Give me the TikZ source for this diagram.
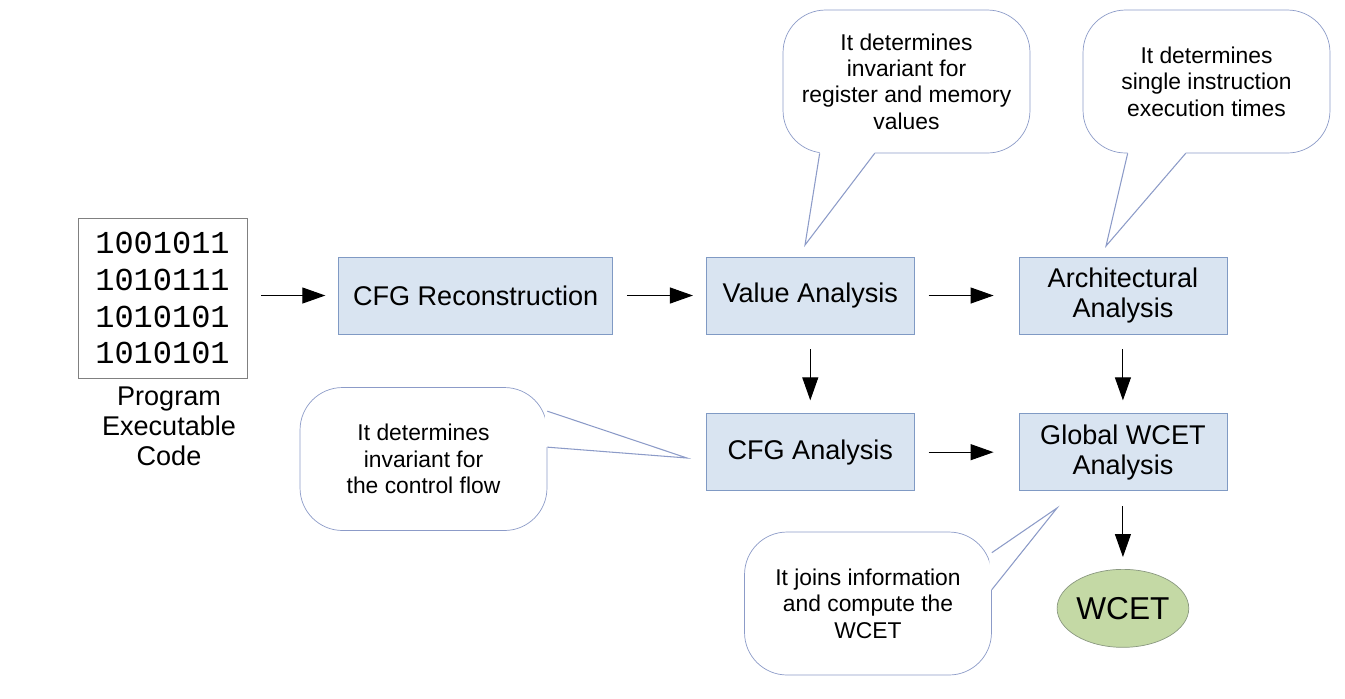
\documentclass[tikz,border=0pt]{standalone}
\usepackage{fontspec}
\setmainfont{Liberation Sans}
\newfontfamily\codefont{Liberation Mono}
\usetikzlibrary{arrows.meta, shapes.geometric, positioning, calc}

\definecolor{boxfill}{RGB}{217,228,241}
\definecolor{boxline}{RGB}{128,154,196}
\definecolor{noteline}{RGB}{140,155,200}
\definecolor{wcetfill}{RGB}{196,217,165}
\definecolor{wcetline}{RGB}{138,152,128}

\begin{document}
\begin{tikzpicture}[
    % one unit = one pixel of the slide, y going down
    x=0.02cm, y=-0.02cm,
    % Styles
    box/.style={rectangle, draw=boxline, fill=boxfill, minimum width=4.16cm, minimum height=1.54cm, inner sep=0pt, text centered, align=center, font=\fontsize{15.4}{17.1}\selectfont},
    note/.style={rectangle, draw=noteline, fill=white, rounded corners=0.85cm, minimum width=4.94cm, minimum height=2.86cm, inner sep=0pt, align=center, font=\fontsize{13}{15}\selectfont},
    arrow/.style={-{Triangle[length=0.46cm, width=0.32cm]}, line width=0.6pt, shorten <=0.28cm, shorten >=0.26cm},
    pointer/.style={draw=noteline, line width=0.6pt}
]
\useasboundingbox (0,0) rectangle (1345,698);

% --- Program code ---
\node[draw=gray, fill=white, minimum width=3.38cm, minimum height=3.2cm, inner sep=0pt, align=center, font=\codefont\fontsize{18.2}{21}\selectfont] (code) at (162.5,298) {1001011\\1010111\\1010101\\1010101};
\node[below=0.16cm of code, xshift=0.13cm, inner sep=0pt, align=center, font=\fontsize{15.4}{17.1}\selectfont] (code_label) {Program\\Executable\\Code};

% --- Analysis chain ---
\node[box, right=1.82cm of code, yshift=0.05cm, minimum width=5.48cm] (cfg_rec) {CFG Reconstruction};
\node[box, right=1.86cm of cfg_rec] (value) {Value Analysis};
\node[box, right=2.08cm of value] (arch) {Architectural\\Analysis};
\node[box, below=1.58cm of value] (cfg_ana) {CFG Analysis};
\node[box, below=1.58cm of arch] (global) {Global WCET\\Analysis};
\node[ellipse, draw=wcetline, fill=wcetfill, minimum width=2.6cm, minimum height=1.56cm, inner sep=0pt, font=\fontsize{18}{20}\selectfont, below=1.56cm of global] (wcet) {WCET};

\draw[arrow] (code.east |- cfg_rec) -- (cfg_rec);
\draw[arrow] (cfg_rec) -- (value);
\draw[arrow, shorten >=0.5cm] (value) -- (arch);
\draw[arrow, shorten <=0.3cm] (value) -- (cfg_ana);
\draw[arrow, shorten <=0.3cm] (arch) -- (global);
\draw[arrow, shorten >=0.5cm] (cfg_ana) -- (global);
\draw[arrow, shorten <=0.3cm, shorten >=0.24cm] (global) -- (wcet);

% --- Callouts ---
\node[note] (value_note) at (906.5,81.5) {It determines\\invariant for\\register and memory\\values};
\coordinate (value_a) at ([xshift=0.74cm]value_note.south west);
\coordinate (value_b) at ([xshift=1.84cm]value_note.south west);
\coordinate (value_tip) at (805,245);
\fill[white] ([yshift=0.05cm]value_a) -- (value_a) -- (value_tip) -- (value_b) -- ([yshift=0.05cm]value_b) -- cycle;
\draw[pointer] (value_a) -- (value_tip) -- (value_b);

\node[note] (arch_note) at (1206.5,81.5) {It determines\\single instruction\\execution times};
\coordinate (arch_a) at ([xshift=0.9cm]arch_note.south west);
\coordinate (arch_b) at ([xshift=2.06cm]arch_note.south west);
\coordinate (arch_tip) at (1106,246);
\fill[white] ([yshift=0.05cm]arch_a) -- (arch_a) -- (arch_tip) -- (arch_b) -- ([yshift=0.05cm]arch_b) -- cycle;
\draw[pointer] (arch_a) -- (arch_tip) -- (arch_b);

\node[note] (cfg_note) at (423.5,459) {It determines\\invariant for\\the control flow};
\coordinate (cfg_a) at ([yshift=-0.48cm]cfg_note.north east);
\coordinate (cfg_b) at ([yshift=-1.2cm]cfg_note.north east);
\coordinate (cfg_tip) at (687,458);
\fill[white] ([xshift=-0.05cm]cfg_a) -- (cfg_a) -- (cfg_tip) -- (cfg_b) -- ([xshift=-0.05cm]cfg_b) -- cycle;
\draw[pointer] (cfg_a) -- (cfg_tip) -- (cfg_b);

\node[note] (global_note) at (868,603.5) {It joins information\\and compute the\\WCET};
\coordinate (global_a) at ([yshift=-0.42cm]global_note.north east);
\coordinate (global_b) at ([yshift=-1.16cm]global_note.north east);
\coordinate (global_tip) at (1057,508);
\fill[white] ([xshift=-0.05cm]global_a) -- (global_a) -- (global_tip) -- (global_b) -- ([xshift=-0.05cm]global_b) -- cycle;
\draw[pointer] (global_a) -- (global_tip) -- (global_b);

\end{tikzpicture}
\end{document}
